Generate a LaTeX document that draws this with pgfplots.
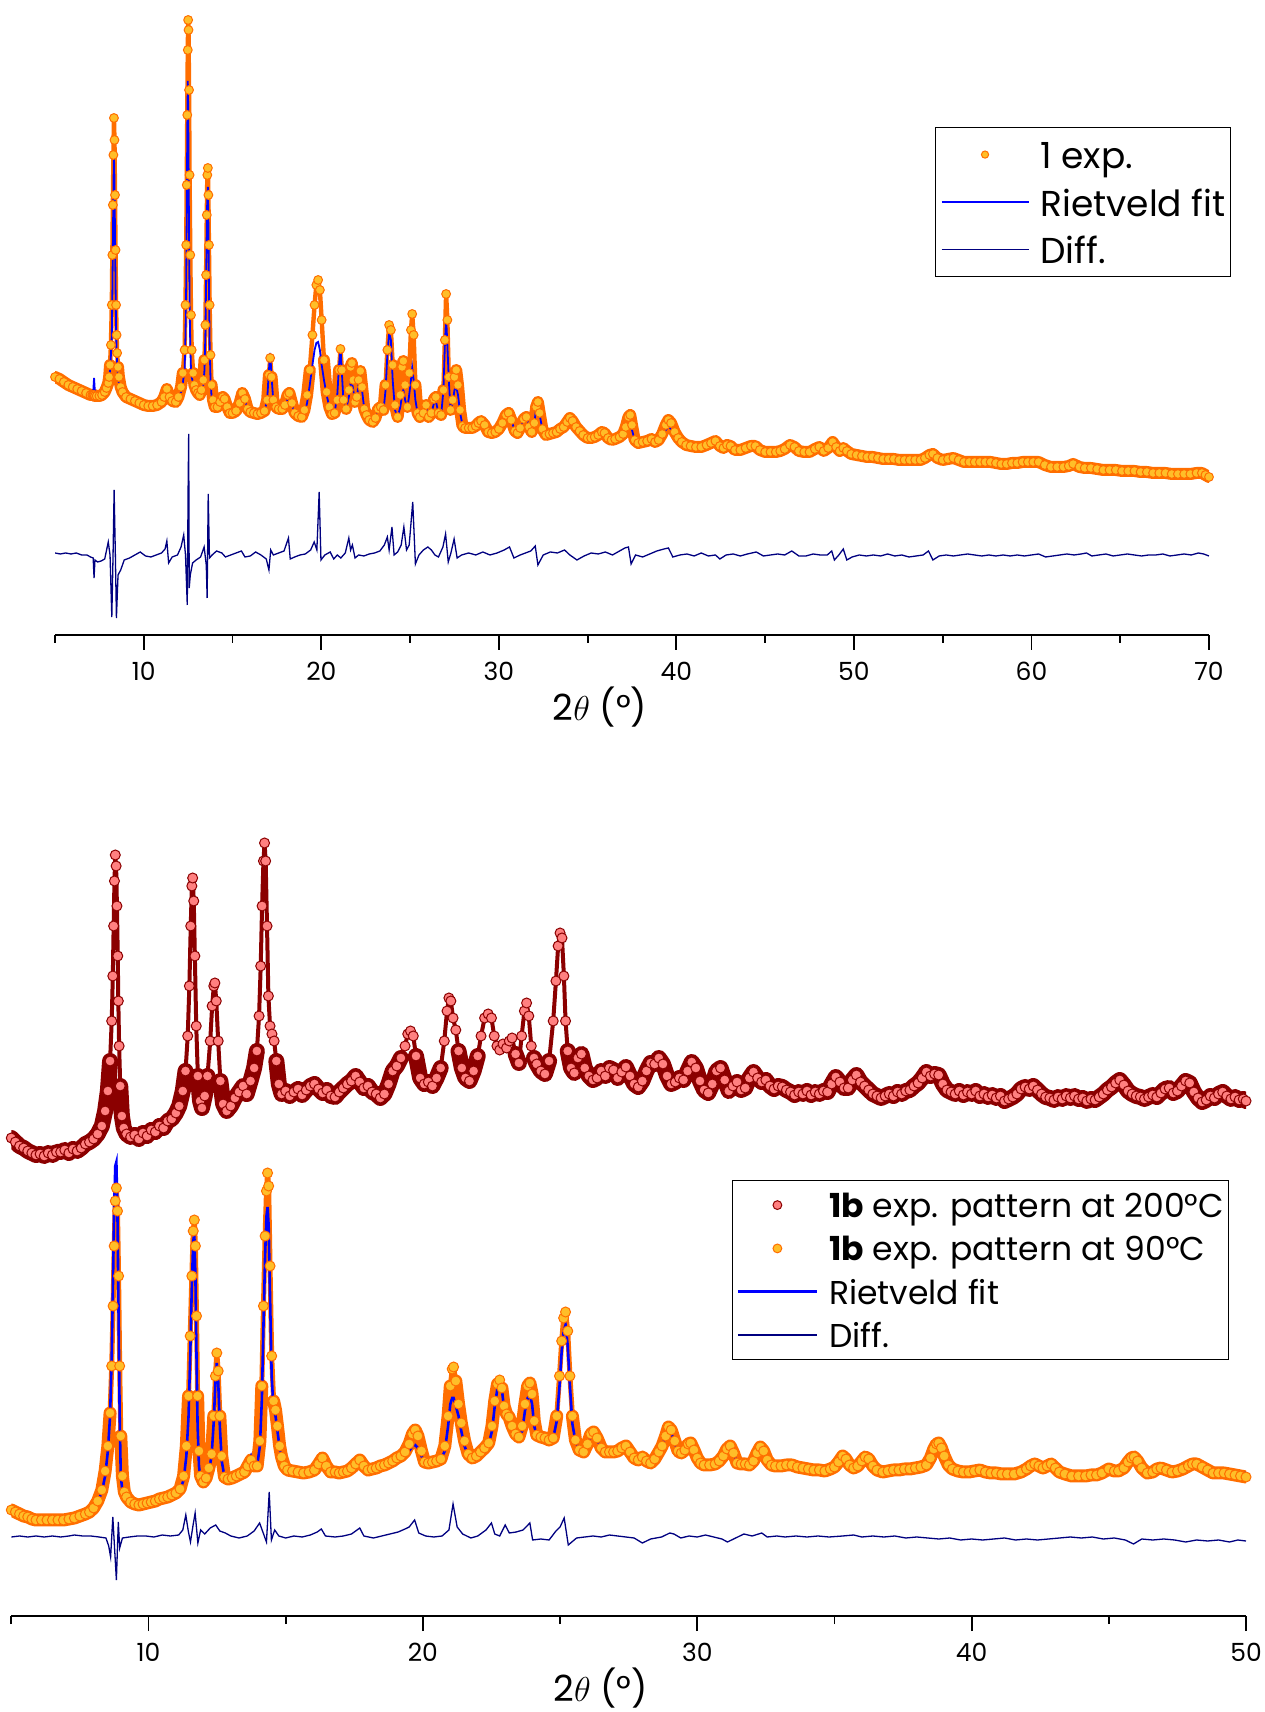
\documentclass[border=0pt]{standalone}
\usepackage{fontspec}
\setmainfont{Poppins}
\usepackage{pgfplots}
\usepackage{pgfplotstable}
\pgfplotsset{compat=1.18}
\definecolor{dotfill}{RGB}{255,190,40}
\definecolor{dotedge}{RGB}{255,110,0}
\definecolor{redfill}{RGB}{255,128,128}
\definecolor{rededge}{RGB}{139,0,0}
\definecolor{fitblue}{RGB}{0,0,255}
\definecolor{diffnavy}{RGB}{0,0,128}

\pgfplotstableread{
x exp fit
5.00 258 256
5.25 256 254
5.50 253 252
5.75 250 249
6.00 248 247
6.25 246 245
6.50 244 243
6.75 242 241
7.00 240 240
7.10 240 240
7.15 240 242
7.20 240 257
7.25 239 242
7.35 239 239
7.50 239 239
7.65 240 240
7.80 243 243
7.90 247 247
8.00 252 252
8.05 258 256
8.10 270 265
8.15 290 280
8.20 330 300
8.23 380 340
8.26 430 390
8.29 480 445
8.32 517 480
8.35 495 455
8.38 440 400
8.41 385 350
8.44 330 305
8.47 300 285
8.50 282 272
8.55 268 260
8.60 258 252
8.70 248 245
8.80 243 241
9.00 238 238
9.25 236 236
9.50 234 234
9.75 232 232
10.00 230 230
10.25 229 229
10.50 229 229
10.75 230 230
11.00 233 232
11.15 238 235
11.30 246 240
11.45 238 236
11.60 234 234
11.80 233 233
11.95 238 237
12.10 248 243
12.20 262 252
12.30 285 265
12.35 330 300
12.39 390 350
12.42 450 420
12.45 520 500
12.48 585 554
12.50 615 530
12.52 605 480
12.55 545 400
12.58 460 330
12.62 380 290
12.66 320 265
12.70 285 258
12.78 262 252
12.85 250 250
12.95 245 240
13.05 242 238
13.15 240 238
13.25 245 242
13.35 255 250
13.42 275 265
13.47 310 300
13.51 360 350
13.55 420 410
13.58 460 440
13.61 467 448
13.64 440 410
13.67 390 350
13.71 330 290
13.76 280 255
13.82 250 238
13.90 235 230
14.00 228 227
14.15 228 227
14.30 233 232
14.45 238 235
14.55 236 234
14.70 228 228
14.85 222 223
15.00 222 222
15.20 224 224
15.40 232 230
15.55 242 240
15.70 236 235
15.85 226 226
16.00 223 223
16.20 222 222
16.40 221 221
16.60 222 222
16.80 224 224
16.95 235 235
17.05 260 265
17.12 277 282
17.20 258 258
17.30 235 233
17.45 228 227
17.60 226 226
17.80 226 226
17.95 230 228
18.10 240 236
18.20 242 238
18.35 232 230
18.50 222 222
18.70 219 219
18.90 218 218
19.05 225 222
19.20 240 232
19.35 265 250
19.50 300 270
19.62 330 285
19.72 350 292
19.82 355 293
19.92 345 285
20.02 315 270
20.15 275 255
20.30 243 240
20.45 228 228
20.60 221 221
20.75 222 222
20.90 235 240
21.00 265 270
21.08 286 287
21.16 265 262
21.25 235 233
21.40 226 226
21.55 245 238
21.65 268 252
21.72 272 253
21.80 255 245
21.90 233 232
22.00 238 236
22.10 255 252
22.20 264 259
22.30 248 244
22.42 226 226
22.55 220 220
22.70 215 216
22.90 213 214
23.05 217 217
23.20 226 225
23.35 228 228
23.50 225 224
23.62 250 245
23.72 285 280
23.82 310 302
23.92 305 295
24.02 270 255
24.15 230 225
24.30 218 218
24.45 240 228
24.55 268 240
24.62 274 245
24.72 250 235
24.85 228 227
24.95 262 240
25.05 305 255
25.12 321 267
25.20 300 255
25.30 250 235
25.42 222 222
25.55 218 218
25.75 222 222
25.90 230 228
26.05 218 218
26.20 222 222
26.35 236 232
26.45 238 234
26.60 222 222
26.75 220 220
26.88 245 245
26.96 295 290
27.03 341 318
27.10 315 290
27.18 258 255
27.28 225 225
27.40 235 232
27.50 258 245
27.60 265 248
27.70 250 240
27.82 225 222
27.95 209 210
28.10 207 208
28.30 207 207
28.50 207 207
28.70 209 209
28.85 212 212
29.00 214 214
29.20 210 210
29.40 203 203
29.60 202 202
29.80 203 203
30.00 206 206
30.20 212 212
30.40 220 220
30.55 222 222
30.70 215 215
30.90 204 204
31.05 202 202
31.20 207 207
31.40 216 216
31.55 218 218
31.70 208 208
31.85 203 203
32.00 212 212
32.10 228 226
32.20 233 231
32.30 222 220
32.45 206 206
32.65 200 200
32.85 201 201
33.05 202 202
33.25 203 203
33.45 206 206
33.65 208 208
33.85 213 213
34.00 217 217
34.15 214 214
34.35 208 208
34.55 204 204
34.75 200 200
35.00 197 197
35.20 197 197
35.40 198 198
35.60 200 200
35.80 203 203
35.95 202 202
36.15 197 197
36.35 195 195
36.55 196 196
36.80 198 198
37.00 201 201
37.15 208 206
37.30 218 210
37.40 220 211
37.50 210 205
37.65 195 195
37.85 192 192
38.10 193 193
38.35 194 194
38.60 196 196
38.80 193 193
39.00 195 195
39.20 201 199
39.40 210 205
39.55 215 208
39.70 212 206
39.90 203 200
40.10 197 196
40.30 193 193
40.55 190 190
40.80 189 189
41.10 188 188
41.40 188 188
41.70 190 190
41.95 192 192
42.20 194 194
42.45 189 189
42.65 187 187
42.85 190 190
43.05 189 189
43.30 185 185
43.60 185 185
43.90 187 187
44.20 189 189
44.45 189 189
44.70 185 185
45.00 183 183
45.30 183 183
45.60 183 183
45.85 184 184
46.10 186 186
46.40 190 190
46.65 188 188
46.90 184 184
47.20 183 183
47.50 183 183
47.80 186 186
48.05 188 188
48.30 184 184
48.55 187 187
48.80 193 193
49.00 188 188
49.20 184 184
49.40 187 187
49.60 184 184
49.85 181 181
50.15 180 180
50.45 179 179
50.75 178 178
51.05 178 178
51.35 177 177
51.65 176 176
51.95 176 176
52.25 176 176
52.55 175 175
52.85 175 175
53.15 175 175
53.45 175 175
53.75 175 175
54.00 177 177
54.25 180 180
54.45 181 181
54.70 177 177
55.00 175 175
55.30 176 176
55.60 177 177
55.90 175 175
56.20 173 173
56.50 173 173
56.80 173 173
57.10 173 173
57.40 173 173
57.70 173 173
58.00 172 172
58.30 171 171
58.60 171 171
58.90 172 172
59.20 172 172
59.50 173 173
59.80 173 173
60.10 173 173
60.40 173 173
60.75 170 170
61.10 168 168
61.45 168 168
61.80 168 168
62.10 169 169
62.35 171 171
62.70 168 168
63.00 167 167
63.35 167 167
63.70 166 166
64.05 165 165
64.40 165 165
64.75 165 165
65.10 164 164
65.45 164 164
65.80 164 164
66.15 163 163
66.50 163 163
66.85 162 162
67.20 162 162
67.55 162 162
67.90 161 161
68.25 161 161
68.60 161 161
68.95 161 161
69.30 162 162
69.60 162 162
69.80 160 160
70.00 158 158
}\toptab

\pgfplotstableread{
x d
5.00 82
5.30 81
5.60 82
5.90 81
6.20 82
6.50 80
6.80 80
7.00 78
7.15 77
7.20 57
7.25 75
7.40 73
7.60 74
7.80 76
8.00 93
8.10 80
8.20 18
8.27 80
8.33 145
8.40 80
8.46 17
8.55 60
8.70 65
8.90 75
9.20 77
9.50 80
9.80 83
10.10 79
10.40 78
10.70 80
11.00 82
11.20 86
11.30 94
11.40 72
11.60 78
11.90 80
12.10 88
12.25 100
12.35 80
12.45 30
12.50 150
12.53 201
12.56 47
12.62 60
12.75 72
12.95 75
13.20 78
13.40 88
13.52 70
13.57 37
13.63 141
13.70 77
13.85 80
14.10 84
14.40 82
14.60 78
14.90 80
15.20 82
15.50 84
15.70 78
16.00 79
16.30 83
16.60 80
16.90 76
17.05 65
17.15 85
17.30 80
17.60 82
17.90 84
18.15 97
18.25 76
18.50 78
18.80 80
19.10 81
19.40 85
19.60 93
19.75 85
19.88 143
19.98 75
20.20 80
20.50 83
20.70 76
20.90 80
21.10 77
21.35 82
21.55 97
21.65 85
21.75 90
21.90 77
22.10 80
22.40 79
22.70 81
23.00 82
23.30 84
23.55 90
23.72 98
23.82 85
23.98 108
24.10 80
24.30 83
24.50 90
24.65 108
24.80 85
24.95 90
25.15 133
25.30 71
25.50 80
25.75 85
26.00 88
26.20 85
26.40 80
26.60 78
26.85 88
27.00 101
27.15 73
27.30 82
27.48 96
27.65 77
27.90 80
28.30 82
28.70 80
29.10 83
29.50 80
29.90 82
30.30 85
30.60 88
30.85 77
31.20 80
31.50 82
31.80 84
32.05 89
32.20 70
32.50 80
32.90 83
33.30 82
33.70 85
34.00 80
34.40 75
34.80 79
35.20 82
35.60 81
36.00 83
36.40 80
36.80 84
37.10 87
37.30 88
37.45 71
37.70 80
38.10 78
38.50 81
38.90 84
39.30 86
39.55 87
39.80 78
40.20 80
40.60 81
41.00 79
41.40 82
41.80 79
42.20 80
42.45 76
42.80 80
43.20 81
43.60 79
44.00 81
44.50 83
44.90 79
45.30 80
45.70 81
46.10 80
46.50 84
46.90 79
47.30 79
47.70 81
48.10 80
48.50 80
48.75 84
48.90 75
49.15 80
49.40 86
49.60 75
49.90 78
50.30 80
50.70 79
51.10 80
51.50 79
51.90 81
52.30 79
52.70 80
53.10 78
53.50 79
53.90 80
54.20 84
54.45 75
54.80 79
55.20 80
55.60 79
56.00 80
56.40 81
56.80 80
57.20 79
57.60 80
58.00 79
58.40 80
58.80 79
59.20 80
59.60 79
60.00 80
60.40 81
60.80 78
61.20 79
61.60 80
62.00 81
62.40 80
62.80 81
63.10 82
63.40 79
63.80 80
64.20 81
64.60 79
65.00 80
65.40 81
65.80 80
66.20 79
66.60 80
67.00 80
67.40 81
67.80 79
68.20 80
68.60 81
69.00 80
69.40 82
69.70 81
70.00 79
}\topdiff

\pgfplotstableread{
x r
5.00 478
5.15 474
5.30 470
5.45 468
5.60 465
5.75 463
5.90 461
6.05 462
6.20 460
6.35 463
6.50 461
6.65 464
6.80 464
6.95 466
7.10 463
7.25 467
7.40 465
7.55 468
7.70 472
7.85 474
8.00 477
8.15 482
8.30 490
8.42 505
8.52 525
8.60 555
8.66 595
8.70 640
8.73 690
8.76 735
8.79 761
8.82 750
8.85 710
8.88 660
8.90 615
8.93 570
8.97 530
9.03 500
9.10 488
9.20 482
9.35 479
9.50 481
9.65 477
9.80 483
9.95 480
10.10 486
10.25 484
10.40 490
10.55 488
10.70 495
10.85 497
11.00 503
11.12 510
11.25 525
11.35 545
11.43 580
11.49 630
11.54 690
11.58 730
11.61 738
11.65 715
11.69 660
11.74 590
11.80 540
11.88 515
11.95 508
12.05 520
12.15 540
12.25 575
12.32 610
12.38 630
12.42 633
12.47 615
12.54 575
12.62 535
12.72 512
12.85 505
13.00 510
13.15 518
13.30 524
13.45 530
13.58 522
13.72 535
13.85 548
13.95 565
14.03 600
14.09 650
14.14 710
14.19 755
14.23 773
14.27 755
14.32 690
14.37 620
14.43 590
14.50 582
14.58 575
14.66 555
14.75 532
14.85 522
15.00 525
15.15 520
15.30 524
15.45 527
15.60 521
15.75 526
15.90 530
16.05 532
16.20 527
16.35 523
16.50 526
16.65 520
16.80 519
16.95 524
17.10 528
17.25 532
17.40 535
17.55 540
17.70 534
17.85 528
18.00 530
18.15 524
18.30 522
18.45 518
18.60 522
18.75 532
18.90 545
19.05 550
19.20 558
19.35 570
19.45 582
19.55 585
19.65 580
19.75 560
19.90 538
20.05 532
20.20 534
20.35 530
20.50 538
20.65 548
20.78 575
20.88 605
20.95 618
21.02 615
21.10 598
21.20 586
21.30 565
21.42 548
21.55 538
21.70 535
21.85 545
22.00 560
22.12 580
22.25 598
22.38 602
22.50 598
22.60 580
22.70 570
22.80 566
22.92 572
23.05 568
23.15 575
23.25 578
23.38 562
23.50 553
23.60 580
23.70 605
23.78 613
23.86 600
23.95 570
24.05 558
24.15 552
24.30 545
24.45 542
24.60 555
24.75 595
24.85 635
24.93 670
25.00 683
25.07 678
25.14 640
25.20 595
25.28 565
25.40 548
25.52 543
25.65 558
25.78 562
25.90 548
26.05 540
26.20 536
26.35 538
26.50 545
26.65 540
26.80 548
26.95 546
27.10 538
27.25 544
27.40 549
27.55 540
27.70 532
27.85 529
28.00 535
28.15 545
28.30 553
28.45 552
28.60 558
28.75 552
28.90 540
29.05 532
29.20 534
29.35 538
29.50 536
29.65 545
29.80 554
29.95 548
30.10 535
30.25 526
30.40 523
30.55 532
30.70 545
30.85 548
31.00 536
31.15 525
31.30 530
31.45 534
31.60 526
31.75 528
31.90 538
32.05 544
32.20 538
32.35 534
32.50 536
32.65 530
32.80 527
32.95 530
33.10 529
33.25 526
33.40 524
33.55 521
33.70 524
33.85 522
34.00 525
34.15 521
34.30 524
34.45 522
34.60 525
34.75 524
34.90 532
35.05 539
35.20 534
35.35 528
35.50 528
35.65 536
35.80 541
35.95 534
36.10 530
36.25 526
36.40 522
36.55 520
36.70 518
36.85 520
37.00 522
37.15 520
37.30 524
37.45 522
37.60 525
37.75 526
37.90 530
38.05 533
38.20 538
38.35 544
38.50 540
38.65 542
38.80 541
38.95 532
39.10 526
39.25 524
39.40 522
39.55 525
39.70 521
39.85 524
40.00 522
40.15 525
40.30 520
40.45 522
40.60 519
40.75 521
40.90 518
41.05 520
41.20 515
41.35 517
41.50 519
41.65 522
41.80 527
41.95 529
42.10 527
42.25 530
42.40 526
42.55 522
42.70 519
42.85 518
43.00 516
43.15 519
43.30 517
43.45 520
43.60 518
43.75 520
43.90 517
44.05 518
44.20 515
44.35 517
44.50 516
44.65 519
44.80 522
44.95 526
45.10 529
45.25 533
45.40 536
45.55 531
45.70 525
45.85 522
46.00 520
46.15 519
46.30 517
46.45 519
46.60 521
46.75 519
46.90 523
47.05 527
47.20 528
47.35 523
47.50 525
47.65 530
47.80 535
47.95 533
48.10 524
48.25 518
48.40 514
48.55 516
48.70 520
48.85 518
49.00 522
49.15 524
49.30 520
49.45 517
49.60 519
49.75 516
49.90 517
50.00 515
}\redtab

\pgfplotstableread{
x exp fit
5.00 106 104
5.15 104 102
5.30 102 100
5.45 100 99
5.60 99 98
5.75 97 97
5.90 96 96
6.10 96 96
6.30 96 96
6.50 96 96
6.70 96 96
6.90 96 96
7.10 97 97
7.30 98 98
7.50 100 100
7.70 102 102
7.85 104 104
8.00 108 108
8.15 115 114
8.30 126 124
8.42 145 140
8.52 170 165
8.60 203 200
8.66 250 260
8.71 310 340
8.75 370 410
8.79 415 450
8.83 428 454
8.87 405 400
8.91 340 300
8.95 250 200
8.99 180 140
9.05 140 125
9.12 124 118
9.20 119 116
9.35 114 114
9.50 112 112
9.65 111 111
9.80 112 112
9.95 113 113
10.10 114 114
10.25 115 115
10.40 117 117
10.55 118 118
10.70 119 119
10.85 121 121
11.00 123 123
11.15 127 126
11.28 140 136
11.38 170 160
11.46 220 200
11.52 280 260
11.58 340 330
11.63 385 375
11.67 396 382
11.71 370 340
11.75 300 260
11.79 220 190
11.84 165 150
11.90 140 137
12.00 134 134
12.10 138 137
12.20 148 145
12.30 162 160
12.38 200 195
12.44 240 235
12.49 263 253
12.54 245 235
12.60 200 190
12.67 160 155
12.77 139 139
12.90 137 137
13.05 138 138
13.20 140 140
13.35 142 142
13.50 144 145
13.62 150 152
13.74 156 160
13.85 150 152
13.96 150 150
14.06 175 170
14.13 230 215
14.19 310 290
14.25 380 360
14.30 425 400
14.34 443 409
14.38 430 390
14.43 350 320
14.49 260 240
14.56 215 205
14.63 206 200
14.70 190 185
14.78 170 168
14.85 159 158
14.95 150 150
15.07 146 146
15.25 145 145
15.45 144 144
15.65 143 143
15.85 144 144
16.05 146 146
16.20 152 150
16.34 158 157
16.48 150 149
16.64 144 144
16.80 144 144
16.95 143 143
17.10 144 144
17.25 145 145
17.40 148 148
17.55 152 151
17.70 156 155
17.85 150 150
18.00 146 146
18.15 147 147
18.30 148 148
18.45 150 150
18.60 151 151
18.75 153 153
18.90 155 155
19.05 158 157
19.20 160 158
19.35 164 160
19.50 172 165
19.62 182 170
19.72 186 171
19.82 180 168
19.95 165 160
20.06 154 154
20.20 153 153
20.35 154 154
20.50 155 155
20.66 157 157
20.80 170 165
20.92 200 190
21.00 230 212
21.07 247 218
21.12 249 218
21.20 235 210
21.30 212 200
21.40 193 185
21.52 175 170
21.65 162 160
21.80 158 157
21.95 160 160
22.10 164 163
22.25 168 168
22.40 173 172
22.52 190 185
22.62 215 210
22.72 232 228
22.80 236 233
22.88 228 226
22.96 210 208
23.05 202 200
23.14 199 198
23.25 190 190
23.38 182 182
23.50 179 178
23.62 190 185
23.72 212 205
23.82 230 218
23.90 233 221
23.98 222 212
24.06 195 190
24.15 181 180
24.30 179 178
24.45 178 178
24.60 176 176
24.75 178 178
24.88 200 195
24.98 240 230
25.06 275 265
25.13 298 285
25.20 304 291
25.28 285 270
25.36 240 230
25.45 200 192
25.56 176 175
25.70 166 165
25.86 164 164
26.00 172 170
26.12 182 180
26.22 184 182
26.35 178 176
26.50 168 168
26.65 164 164
26.80 164 164
26.95 164 164
27.10 165 165
27.25 168 168
27.40 170 170
27.55 164 164
27.70 158 158
27.85 156 156
28.00 159 159
28.15 155 155
28.30 153 153
28.45 157 157
28.60 164 164
28.72 170 170
28.85 180 180
28.95 189 185
29.05 186 183
29.18 175 173
29.30 165 164
29.42 163 163
29.55 166 166
29.67 172 172
29.76 173 173
29.88 166 166
30.00 158 158
30.12 153 153
30.25 151 151
30.45 151 151
30.65 152 152
30.80 155 155
30.95 160 160
31.08 167 167
31.20 170 170
31.32 163 163
31.45 153 153
31.60 152 152
31.75 152 152
31.90 151 151
32.05 155 155
32.18 163 163
32.30 169 169
32.42 165 165
32.55 156 156
32.70 151 151
32.85 150 150
33.05 150 150
33.25 151 151
33.45 151 151
33.65 149 149
33.85 148 148
34.05 147 147
34.25 146 146
34.45 146 146
34.65 145 145
34.85 147 147
35.00 149 149
35.15 154 154
35.30 160 160
35.42 157 157
35.55 151 151
35.70 148 148
35.85 150 150
36.00 155 155
36.12 159 159
36.25 157 157
36.40 150 150
36.55 146 146
36.76 144 144
36.95 145 145
37.15 146 146
37.35 146 146
37.55 147 147
37.75 147 147
37.95 148 148
38.15 149 149
38.35 151 151
38.50 158 158
38.62 167 167
38.72 172 172
38.80 173 173
38.90 168 168
39.00 160 160
39.15 151 151
39.30 147 147
39.50 145 145
39.70 144 144
39.90 144 144
40.10 145 145
40.30 146 146
40.50 144 144
40.70 143 143
40.90 143 143
41.10 142 142
41.30 142 142
41.55 142 142
41.80 144 144
42.00 147 147
42.15 150 150
42.30 152 152
42.45 150 150
42.60 148 148
42.75 150 150
42.90 152 152
43.05 148 148
43.20 144 144
43.40 142 142
43.65 140 140
43.90 140 140
44.15 140 140
44.35 141 141
44.55 141 141
44.75 143 143
45.00 147 147
45.20 145 145
45.35 145 145
45.55 148 148
45.70 154 154
45.82 158 158
45.92 159 159
46.05 155 155
46.20 148 148
46.40 143 143
46.60 144 144
46.75 147 147
46.90 148 148
47.10 146 146
47.30 144 144
47.50 145 145
47.70 147 147
47.90 150 150
48.05 152 152
48.20 152 152
48.40 149 149
48.60 146 146
48.80 143 143
49.00 143 143
49.20 143 143
49.40 142 142
49.60 141 141
49.80 140 142
50.00 139 143
}\orgtab

\pgfplotstableread{
x d
5.00 79
5.30 80
5.60 79
5.90 80
6.20 79
6.50 80
6.80 79
7.10 80
7.30 81
7.60 80
7.90 80
8.20 79
8.45 78
8.55 70
8.62 59
8.70 99
8.78 60
8.83 36
8.90 94
8.95 68
9.05 78
9.30 79
9.60 80
9.90 80
10.20 79
10.50 81
10.80 80
11.10 81
11.25 86
11.36 101
11.45 85
11.53 74
11.62 90
11.70 103
11.80 73
11.90 86
12.05 82
12.25 88
12.45 91
12.60 85
12.80 83
13.00 80
13.30 78
13.60 80
13.85 85
14.05 93
14.30 74
14.40 124
14.48 76
14.60 86
14.75 80
15.00 78
15.30 80
15.60 79
15.90 81
16.15 84
16.30 87
16.45 80
16.80 79
17.10 80
17.40 82
17.70 88
17.85 80
18.20 78
18.50 80
18.80 82
19.10 84
19.35 87
19.50 89
19.70 96
19.85 83
20.10 80
20.40 79
20.70 80
20.95 86
21.10 112
21.25 89
21.45 82
21.75 78
22.00 80
22.30 86
22.50 93
22.62 82
22.80 80
23.00 91
23.15 83
23.40 84
23.65 86
23.90 93
24.00 76
24.30 77
24.60 76
24.85 85
25.00 89
25.15 98
25.30 71
25.60 78
25.90 79
26.20 80
26.50 79
26.80 81
27.10 80
27.40 79
27.70 78
28.00 73
28.30 77
28.70 79
29.00 83
29.15 82
29.40 78
29.70 80
30.00 79
30.30 81
30.60 79
30.90 77
31.10 74
31.40 78
31.70 82
32.00 80
32.35 83
32.55 79
32.90 80
33.20 79
33.60 80
34.00 79
34.40 80
34.80 79
35.30 80
35.70 81
36.00 79
36.40 80
36.80 79
37.20 80
37.60 78
38.00 79
38.40 78
38.80 77
39.20 78
39.60 76
40.00 77
40.40 76
40.80 77
41.20 78
41.60 76
42.00 77
42.40 76
42.80 77
43.20 78
43.60 79
44.00 78
44.40 79
44.80 77
45.20 78
45.60 76
45.90 72
46.20 77
46.60 76
47.00 77
47.40 76
47.80 74
48.20 76
48.60 75
49.00 76
49.40 74
49.70 76
50.00 75
}\botdiff

\pgfplotsset{
  xrdaxis/.style={
    scale only axis,
    axis x line*=bottom,
    axis y line=none,
    x axis line style={-, line width=1.35pt},
    tick align=outside,
    major tick length=7.5pt,
    minor tick length=4pt,
    every tick/.style={black, line width=0.9pt},
    ytick=\empty,
    /pgf/number format/assume math mode=true,
    xticklabel style={font=\fontsize{12.5}{14}\selectfont, anchor=north, inner sep=0pt, yshift=-6pt},
    xlabel style={font=\fontsize{18}{22}\selectfont, at={(axis description cs:0.5,0)}, anchor=center, yshift=-36pt},
    xlabel={2$\theta$ (°)},
    legend cell align=left,
    unbounded coords=jump,
  },
  linelegA/.style={legend image code/.code={\draw[##1] (0pt,0pt) -- (43.5pt,0pt);}},
  linelegB/.style={legend image code/.code={\draw[##1] (0pt,0pt) -- (39.5pt,0pt);}},
  dotlegA/.style={legend image code/.code={\draw[##1, mark size=1.8pt] plot coordinates {(21.75pt,0pt)};}},
  dotlegB/.style={legend image code/.code={\draw[##1, mark size=2.2pt] plot coordinates {(19.75pt,0pt)};}},
}

\begin{document}
\begin{tikzpicture}
\useasboundingbox (0,0) rectangle (632pt,856pt);

\begin{axis}[xrdaxis,
  at={(27.5pt,538.5pt)}, anchor=south west,
  width=577pt, height=317.5pt,
  xmin=5, xmax=70, ymin=0, ymax=635,
  xtick={10,20,...,70}, minor xtick={5,15,...,65},
  xlabel style={xshift=-16pt},
  legend style={at={(0.7626,0.8)}, anchor=north west, draw=black, line width=0.6pt,
    inner xsep=2.5pt, inner ysep=2pt, row sep=0.75pt, column sep=5.5pt,
    font=\fontsize{18}{22}\selectfont,
    nodes={inner sep=0pt, text height=18.5pt, text depth=4.5pt}},
]
\addplot[dotedge, line width=2.2pt, line join=round, line cap=round, forget plot]
  table[x=x, y=exp]{\toptab};
\addplot[dotedge, line width=6pt, line join=round, line cap=round, forget plot,
  restrict y to domain=0:275]
  table[x=x, y=exp]{\toptab};
\addplot[only marks, mark=*, mark size=2.2pt,
  mark options={fill=dotfill, draw=dotedge, line width=0.5pt}, dotlegA]
  table[x=x, y=exp]{\toptab};
\addlegendentry{1 exp.}
\addplot[fitblue, line width=0.9pt, linelegA] table[x=x, y=fit]{\toptab};
\addlegendentry{Rietveld fit}
\addplot[diffnavy, line width=0.65pt, linelegA] table[x=x, y=d]{\topdiff};
\addlegendentry{Diff.}
\end{axis}

\begin{axis}[xrdaxis,
  at={(5.65pt,48pt)}, anchor=south west,
  width=617.35pt, height=400pt,
  xmin=5, xmax=50, ymin=0, ymax=800,
  xtick={10,20,...,50}, minor xtick={5,15,...,45},
  xlabel style={xshift=-14pt},
  legend style={at={(0.5833,0.545)}, anchor=north west, draw=black, line width=0.6pt,
    inner xsep=2.25pt, inner ysep=2pt, row sep=1.17pt, column sep=5.5pt,
    font=\fontsize{16.5}{20}\selectfont,
    nodes={inner sep=0pt, text height=16.5pt, text depth=4pt}},
]
\addplot[rededge, line width=2pt, line join=round, line cap=round, forget plot]
  table[x=x, y=r]{\redtab};
\addplot[rededge, line width=8pt, line join=round, line cap=round, forget plot,
  restrict y to domain=0:565]
  table[x=x, y=r]{\redtab};
\addplot[only marks, mark=*, mark size=2.5pt,
  mark options={fill=redfill, draw=rededge, line width=0.5pt}, dotlegB]
  table[x=x, y=r]{\redtab};
\addlegendentry{\textbf{1b} exp. pattern at 200°C}
\addplot[dotedge, line width=2.5pt, line join=round, line cap=round, forget plot]
  table[x=x, y=exp]{\orgtab};
\addplot[dotedge, line width=6.5pt, line join=round, line cap=round, forget plot,
  restrict y to domain=0:235]
  table[x=x, y=exp]{\orgtab};
\addplot[only marks, mark=*, mark size=2.5pt,
  mark options={fill=dotfill, draw=dotedge, line width=0.5pt}, dotlegB]
  table[x=x, y=exp]{\orgtab};
\addlegendentry{\textbf{1b} exp. pattern at 90°C}
\addplot[fitblue, line width=1.3pt, linelegB] table[x=x, y=fit]{\orgtab};
\addlegendentry{Rietveld fit}
\addplot[diffnavy, line width=0.65pt, linelegB] table[x=x, y=d]{\botdiff};
\addlegendentry{Diff.}
\end{axis}
\end{tikzpicture}
\end{document}
